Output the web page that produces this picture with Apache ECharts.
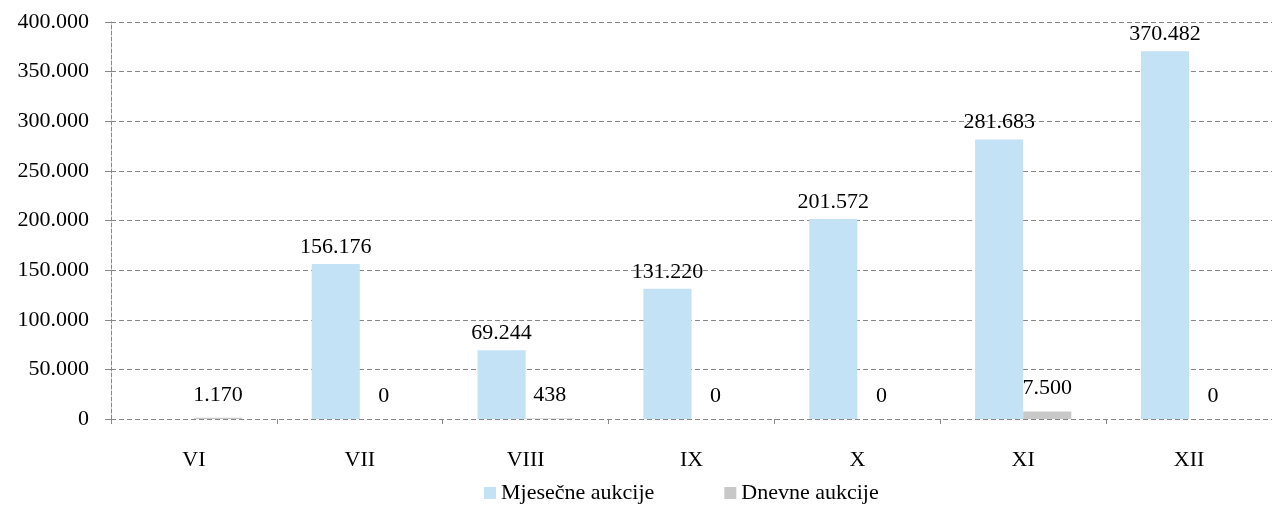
<!DOCTYPE html>
<html>
<head>
<meta charset="utf-8">
<script src="https://cdn.jsdelivr.net/npm/echarts@6/dist/echarts.min.js"></script>
<style>html,body{margin:0;padding:0;background:#fff}#c{width:1272px;height:511px}</style>
</head>
<body>
<div id="c"></div>
<script>
var categories = ['VI', 'VII', 'VIII', 'IX', 'X', 'XI', 'XII'];
var mjesecne = [null, 156176, 69244, 131220, 201572, 281683, 370482];
var dnevne = [1170, 0, 438, 0, 0, 7500, 0];
var seriesNames = ['Mjesečne aukcije', 'Dnevne aukcije'];

function fmt(v) {
  return String(Math.round(v)).replace(/\B(?=(\d{3})+(?!\d))/g, '.');
}
var font = 'Liberation Serif, Times New Roman, serif';
var fs = 22;
var chart = echarts.init(document.getElementById('c'));
chart.setOption({
  animation: false,
  textStyle: { fontFamily: font },
  grid: { left: 111, right: -8, top: 22, bottom: 92, containLabel: false },
  legend: {
    bottom: 2, left: 479, icon: 'rect', itemWidth: 12, itemHeight: 12, itemGap: 70,
    textStyle: { fontFamily: font, fontSize: fs, color: '#000' }
  },
  xAxis: {
    type: 'category', data: categories,
    axisLine: { show: false },
    axisTick: { show: true, length: 5, lineStyle: { color: '#888' } },
    axisLabel: { fontFamily: font, fontSize: fs, color: '#000', margin: 30 }
  },
  yAxis: {
    type: 'value', min: 0, max: 400000, interval: 50000,
    axisLine: { show: true, lineStyle: { color: '#888', type: 'dashed' } },
    axisTick: { show: true, length: 6, lineStyle: { color: '#888' } },
    axisLabel: { fontFamily: font, fontSize: fs, color: '#000', margin: 22, formatter: fmt },
    splitLine: { show: true, lineStyle: { color: '#888', type: [5, 3] } }
  },
  series: [
    {
      name: seriesNames[0], type: 'bar', data: mjesecne, barGap: '0%', barCategoryGap: '42%',
      itemStyle: { color: '#C4E2F6' },
      label: { show: true, position: 'top', distance: 6, fontFamily: font, fontSize: fs, color: '#000',
        formatter: function (p) { return fmt(p.value); } }
    },
    {
      name: seriesNames[1], type: 'bar', data: dnevne,
      itemStyle: { color: '#C8C8C8' },
      label: { show: true, position: 'top', distance: 12, fontFamily: font, fontSize: fs, color: '#000',
        formatter: function (p) { return fmt(p.value); } }
    }
  ]
});
</script>
</body>
</html>
